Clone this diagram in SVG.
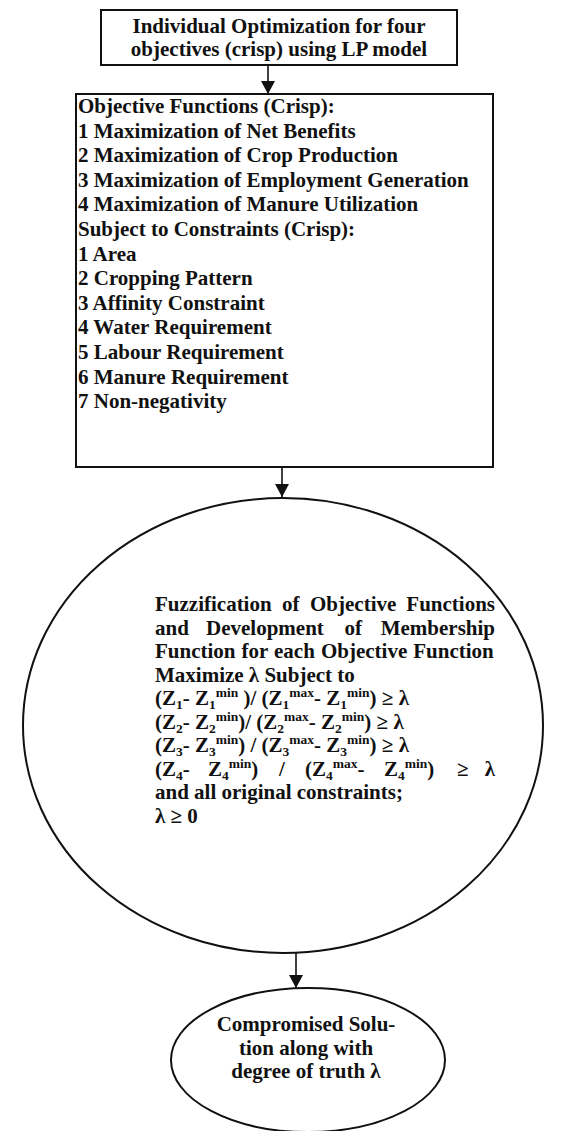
<svg xmlns="http://www.w3.org/2000/svg" width="582" height="1131" viewBox="0 0 582 1131">
<style>
.t{font-family:"Liberation Serif","Times New Roman",serif;font-weight:bold;font-size:21px;fill:#111}
.c{text-anchor:middle}
.e{text-anchor:end}
.s{font-size:13.5px}
.box{fill:#fff;stroke:#111;stroke-width:2}
.ell{fill:#fff;stroke:#111;stroke-width:2}
.con{stroke:#111;stroke-width:1.6;fill:none;marker-end:url(#ah)}
</style>
<defs>
<marker id="ah" viewBox="0 0 13 14" refX="13" refY="7" markerWidth="13" markerHeight="14" markerUnits="userSpaceOnUse" orient="auto">
<path d="M0,0 L13,7 L0,14 Z" fill="#111"/>
</marker>
</defs>
<rect width="582" height="1131" fill="#fff"/>
<g id="connectors">
<line class="con" x1="268" y1="65" x2="268" y2="94"/>
<line class="con" x1="282" y1="467" x2="282" y2="497"/>
<line class="con" x1="296" y1="953" x2="296" y2="988"/>
</g>
<g id="n1">
<rect class="box" x="101" y="10" width="356" height="55"/>
<text class="t c" x="279" y="32.5">Individual Optimization for four</text>
<text class="t c" x="279" y="56">objectives (crisp) using LP model</text>
</g>
<g id="n2">
<rect class="box" x="76" y="94" width="417" height="373"/>
<text class="t" x="78" y="113">Objective Functions (Crisp):</text>
<text class="t" x="78" y="137.6">1 Maximization of Net Benefits</text>
<text class="t" x="78" y="162.2">2 Maximization of Crop Production</text>
<text class="t" x="78" y="186.8">3 Maximization of Employment Generation</text>
<text class="t" x="78" y="211.4">4 Maximization of Manure Utilization</text>
<text class="t" x="78" y="236">Subject to Constraints (Crisp):</text>
<text class="t" x="78" y="260.6">1 Area</text>
<text class="t" x="78" y="285.2">2 Cropping Pattern</text>
<text class="t" x="78" y="309.8">3 Affinity Constraint</text>
<text class="t" x="78" y="334.4">4 Water Requirement</text>
<text class="t" x="78" y="359">5 Labour Requirement</text>
<text class="t" x="78" y="383.6">6 Manure Requirement</text>
<text class="t" x="78" y="408.2">7 Non-negativity</text>
</g>
<g id="n3">
<ellipse class="ell" cx="283" cy="725.5" rx="260" ry="227.5"/>
<text class="t" x="155" y="611">Fuzzification</text>
<text class="t" x="282" y="611">of</text>
<text class="t" x="310" y="611">Objective</text>
<text class="t e" x="495" y="611">Functions</text>
<text class="t" x="155" y="634.5">and</text>
<text class="t" x="206" y="634.5">Development</text>
<text class="t" x="344.5" y="634.5">of</text>
<text class="t e" x="495" y="634.5">Membership</text>
<text class="t" x="155" y="658" word-spacing="0.8">Function for each Objective Function</text>
<text class="t" x="155" y="681.5">Maximize λ Subject to</text>
<text class="t" x="155" y="705">(Z<tspan class="s" dy="4">1</tspan><tspan dy="-4">- Z</tspan><tspan class="s" dy="4">1</tspan><tspan class="s" dy="-12">min</tspan><tspan dy="8"> )/ (Z</tspan><tspan class="s" dy="4">1</tspan><tspan class="s" dy="-12">max</tspan><tspan dy="8">- Z</tspan><tspan class="s" dy="4">1</tspan><tspan class="s" dy="-12">min</tspan><tspan dy="8">) ≥ λ</tspan></text>
<text class="t" x="155" y="728.5">(Z<tspan class="s" dy="4">2</tspan><tspan dy="-4">- Z</tspan><tspan class="s" dy="4">2</tspan><tspan class="s" dy="-12">min</tspan><tspan dy="8">)/ (Z</tspan><tspan class="s" dy="4">2</tspan><tspan class="s" dy="-12">max</tspan><tspan dy="8">- Z</tspan><tspan class="s" dy="4">2</tspan><tspan class="s" dy="-12">min</tspan><tspan dy="8">) ≥ λ</tspan></text>
<text class="t" x="155" y="752">(Z<tspan class="s" dy="4">3</tspan><tspan dy="-4">- Z</tspan><tspan class="s" dy="4">3</tspan><tspan class="s" dy="-12">min</tspan><tspan dy="8">) / (Z</tspan><tspan class="s" dy="4">3</tspan><tspan class="s" dy="-12">max</tspan><tspan dy="8">- Z</tspan><tspan class="s" dy="4">3</tspan><tspan class="s" dy="-12">min</tspan><tspan dy="8">) ≥ λ</tspan></text>
<text class="t" x="155" y="775.5">(Z<tspan class="s" dy="4">4</tspan><tspan dy="-4">-</tspan></text>
<text class="t" x="208" y="775.5">Z<tspan class="s" dy="4">4</tspan><tspan class="s" dy="-12">min</tspan><tspan dy="8">)</tspan></text>
<text class="t" x="279" y="775.5">/</text>
<text class="t" x="305" y="775.5">(Z<tspan class="s" dy="4">4</tspan><tspan class="s" dy="-12">max</tspan><tspan dy="8">-</tspan></text>
<text class="t" x="384" y="775.5">Z<tspan class="s" dy="4">4</tspan><tspan class="s" dy="-12">min</tspan><tspan dy="8">)</tspan></text>
<text class="t" x="457" y="775.5">≥</text>
<text class="t e" x="495" y="775.5">λ</text>
<text class="t" x="155" y="799">and all original constraints;</text>
<text class="t" x="155" y="822.5">λ ≥ 0</text>
</g>
<g id="n4">
<ellipse class="ell" cx="308" cy="1060" rx="137" ry="72"/>
<text class="t c" x="306" y="1031">Compromised Solu-</text>
<text class="t c" x="306" y="1054.5">tion along with</text>
<text class="t c" x="306" y="1078">degree of truth λ</text>
</g>
</svg>
